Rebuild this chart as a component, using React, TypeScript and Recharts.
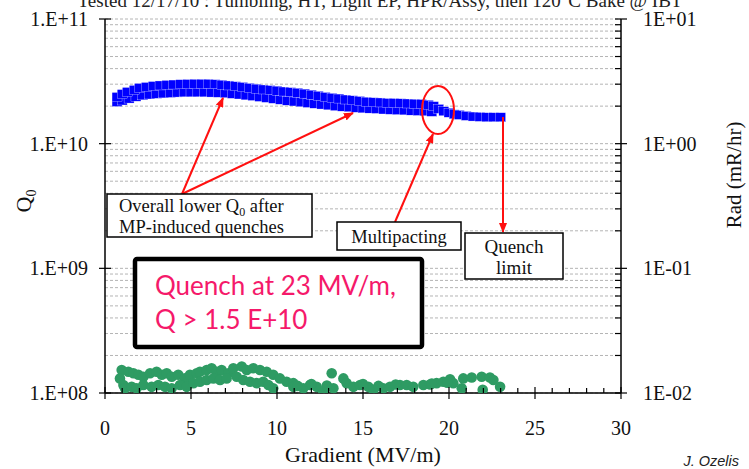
import React from "react";
import {
  ScatterChart,
  Scatter,
  XAxis,
  YAxis,
  CartesianGrid,
} from "recharts";

// Q0 vs gradient, upper row of squares
const gradUpper = [
  0.7, 1.0, 1.3, 1.7, 2.0, 2.4, 2.8, 3.2, 3.6, 4.0, 4.4, 4.8, 5.2, 5.6, 6.0, 6.4, 6.8, 7.2, 7.6,
  8.0, 8.4, 8.8, 9.2, 9.6, 10.0, 10.4, 10.8, 11.2, 11.6, 12.0, 12.4, 12.8, 13.2, 13.6, 14.0,
  14.4, 14.8, 15.2, 15.6, 16.0, 16.4, 16.8, 17.2, 17.6, 18.0, 18.4, 18.8, 19.1, 19.4, 19.7,
  20.0, 20.3, 20.6, 21.0, 21.4, 21.8, 22.2, 22.6, 23.0,
];
const q0Upper = [
  2.37e10, 2.5e10, 2.6e10, 2.7e10, 2.8e10, 2.85e10, 2.9e10, 2.93e10, 2.96e10, 2.98e10, 3.0e10,
  3.01e10, 3.02e10, 3.02e10, 3.02e10, 3.0e10, 2.97e10, 2.93e10, 2.89e10, 2.85e10, 2.8e10,
  2.76e10, 2.72e10, 2.69e10, 2.66e10, 2.62e10, 2.59e10, 2.56e10, 2.52e10, 2.47e10, 2.42e10,
  2.37e10, 2.33e10, 2.3e10, 2.26e10, 2.23e10, 2.2e10, 2.17e10, 2.15e10, 2.14e10, 2.12e10,
  2.12e10, 2.11e10, 2.1e10, 2.09e10, 2.08e10, 2.05e10, 2.0e10, 1.9e10, 1.82e10, 1.77e10,
  1.72e10, 1.7e10, 1.67e10, 1.65e10, 1.64e10, 1.63e10, 1.63e10, 1.63e10,
];

// Q0 after MP-induced quenches (lower row)
const gradLower = [
  0.7, 1.0, 1.4, 1.8, 2.2, 2.6, 3.0, 3.4, 3.8, 4.2, 4.6, 5.0, 5.4, 5.8, 6.2, 6.6, 7.0, 7.4, 7.8,
  8.2, 8.6, 9.0, 9.4, 9.8, 10.2, 10.6, 11.0, 11.4, 11.8, 12.2, 12.6, 13.0, 13.4, 13.8, 14.2,
  14.6, 15.0, 15.4, 15.8, 16.2, 16.6, 17.0, 17.4, 17.8, 18.2, 18.6, 19.0,
];
const q0Lower = [
  2.16e10, 2.22e10, 2.3e10, 2.38e10, 2.44e10, 2.48e10, 2.51e10, 2.53e10, 2.55e10, 2.57e10,
  2.58e10, 2.58e10, 2.58e10, 2.58e10, 2.57e10, 2.56e10, 2.54e10, 2.51e10, 2.48e10, 2.44e10,
  2.41e10, 2.37e10, 2.33e10, 2.29e10, 2.25e10, 2.21e10, 2.18e10, 2.15e10, 2.12e10, 2.09e10,
  2.06e10, 2.03e10, 2.0e10, 1.98e10, 1.96e10, 1.94e10, 1.92e10, 1.91e10, 1.9e10, 1.88e10,
  1.87e10, 1.86e10, 1.85e10, 1.84e10, 1.83e10, 1.82e10, 1.8e10,
];

// radiation (mR/hr), right axis
const gradRad = [
  0.97, 0.87, 1.07, 1.36, 1.65, 1.94, 2.23, 2.62, 3.0, 3.3, 3.59, 3.88, 4.26, 4.65, 4.94, 5.33,
  5.52, 5.91, 6.2, 6.49, 6.78, 7.17, 7.46, 7.95, 8.24, 8.62, 9.01, 9.4, 9.78, 10.17, 10.56,
  10.95, 1.16, 1.55, 1.84, 2.23, 2.71, 3.1, 3.49, 3.88, 4.36, 4.75, 5.14, 5.52, 5.91, 6.3,
  6.69, 7.07, 7.66, 8.04, 8.43, 8.82, 9.2, 9.5, 9.78, 10.95, 11.53, 11.92, 12.31, 12.69,
  13.18, 13.28, 13.86, 14.05, 14.44, 14.83, 15.31, 15.6, 16.18, 16.57, 17.15, 17.54, 17.92,
  18.51, 18.9, 19.28, 19.67, 20.06, 20.25, 20.74, 20.83, 21.32, 21.9, 21.96, 22.38, 22.58,
  22.97, 11.2, 12.0, 12.9, 15.0, 15.9, 16.9, 19.0, 19.9,
];
const radValues = [
  0.0153, 0.0131, 0.0116, 0.0148, 0.0144, 0.014, 0.0135, 0.0144, 0.0148, 0.014, 0.0144, 0.0135,
  0.014, 0.0131, 0.014, 0.0144, 0.0148, 0.0153, 0.0158, 0.0148, 0.0153, 0.0144, 0.0158, 0.0163,
  0.0153, 0.0158, 0.0153, 0.0148, 0.014, 0.0131, 0.0123, 0.012, 0.0109, 0.0112, 0.0109, 0.0116,
  0.0112, 0.0116, 0.0112, 0.0109, 0.0116, 0.0112, 0.012, 0.0123, 0.0127, 0.0131, 0.0127, 0.0131,
  0.0135, 0.0127, 0.0123, 0.012, 0.0123, 0.0116, 0.0109, 0.0112, 0.0109, 0.0116, 0.0112, 0.0102,
  0.0144, 0.0109, 0.0131, 0.012, 0.0112, 0.0116, 0.0112, 0.0106, 0.0109, 0.0112, 0.0116, 0.0116,
  0.0112, 0.0116, 0.0117, 0.012, 0.0123, 0.0129, 0.012, 0.0109, 0.0131, 0.0133, 0.0135, 0.0106,
  0.0133, 0.0127, 0.0112, 0.0114, 0.0118, 0.0115, 0.0118, 0.0114, 0.0117, 0.0119, 0.0121,
];

const xTicks = [
  0, 1, 2, 3, 4, 5, 6, 7, 8, 9, 10, 11, 12, 13, 14, 15, 16, 17, 18, 19, 20, 21, 22, 23, 24,
  25, 26, 27, 28, 29, 30,
];
const qTicks = [1e8, 1e9, 1e10, 1e11];
const radDecades = [0.01, 0.1, 1, 10];
const radTicks = [
  ...radDecades,
  ...radDecades.slice(0, -1).flatMap((d) => [2, 3, 4, 5, 6, 7, 8, 9].map((m) => m * d)),
].sort((a, b) => a - b);

const upperData = gradUpper.map((g, i) => ({ g, q: q0Upper[i] }));
const lowerData = gradLower.map((g, i) => ({ g, q: q0Lower[i] }));
const radData = gradRad.map((g, i) => ({ g, rad: radValues[i] }));

const SERIF = "'Liberation Serif', 'Times New Roman', serif";
const PINK_FONT = "Lato, 'Open Sans', sans-serif";

const isDecade = (v: number) => Math.abs(Math.log10(v) - Math.round(Math.log10(v))) < 1e-6;
const expStr = (v: number) => {
  const e = Math.round(Math.log10(v));
  return (e < 0 ? "-" : "+") + String(Math.abs(e)).padStart(2, "0");
};

const LeftTick = (props: any) => {
  const { x, y, payload } = props;
  return (
    <g>
      <line x1={x - 6} x2={x + 6} y1={y} y2={y} stroke="#000" strokeWidth={1.2} />
      <text x={x - 17} y={y} dy="0.35em" textAnchor="end" fontSize={20} fontFamily={SERIF} fill="#111">
        {"1.E" + expStr(payload.value)}
      </text>
    </g>
  );
};

const RightTick = (props: any) => {
  const { x, y, payload } = props;
  const major = isDecade(payload.value);
  return (
    <g>
      <line x1={x - 6} x2={major ? x + 6 : x} y1={y} y2={y} stroke="#000" strokeWidth={1.2} />
      {major && (
        <text x={x + 22} y={y} dy="0.35em" textAnchor="start" fontSize={20} fontFamily={SERIF} fill="#111">
          {"1E" + expStr(payload.value)}
        </text>
      )}
    </g>
  );
};

const BottomTick = (props: any) => {
  const { x, y, payload } = props;
  const major = payload.value % 5 === 0;
  return (
    <g>
      <line x1={x} x2={x} y1={major ? y - 6 : y - 5} y2={major ? y + 6 : y} stroke="#000" strokeWidth={1.2} />
      {major && (
        <text x={x} y={y + 35} dy="0.35em" textAnchor="middle" fontSize={20} fontFamily={SERIF} fill="#111">
          {payload.value}
        </text>
      )}
    </g>
  );
};

const Square = (p: any) => (
  <rect x={p.cx - 5} y={p.cy - 4.5} width={10} height={9} fill="#0000FF" stroke="#fff" strokeWidth={0.3} />
);
const Dot = (p: any) => <circle cx={p.cx} cy={p.cy} r={5.3} fill="#2E9B63" />;

const Arrow = ({ x1, y1, x2, y2 }: { x1: number; y1: number; y2: number; x2: number }) => (
  <line x1={x1} y1={y1} x2={x2} y2={y2} stroke="#FF1010" strokeWidth={2} markerEnd="url(#arrowhead)" />
);

export default function App() {
  return (
    <div style={{ position: "absolute", left: 0, top: 0, width: 749, height: 469, background: "#fff" }}>
      <ScatterChart width={749} height={469} margin={{ top: 19, right: 0, bottom: 0, left: 0 }}>
        <CartesianGrid yAxisId="rad" vertical={false} stroke="#b4b4b4" strokeDasharray="3 2" />
        <XAxis
          type="number"
          dataKey="g"
          domain={[0, 30]}
          ticks={xTicks}
          interval={0}
          height={76}
          tickSize={0}
          tickMargin={0}
          tick={<BottomTick />}
          axisLine={{ stroke: "#000", strokeWidth: 1.5 }}
        />
        <YAxis
          yAxisId="q"
          type="number"
          dataKey="q"
          scale="log"
          domain={[1e8, 1e11]}
          allowDataOverflow
          ticks={qTicks}
          interval={0}
          width={105}
          tickSize={0}
          tickMargin={0}
          tick={<LeftTick />}
          axisLine={{ stroke: "#000", strokeWidth: 1.5 }}
        />
        <YAxis
          yAxisId="rad"
          orientation="right"
          type="number"
          dataKey="rad"
          scale="log"
          domain={[0.01, 10]}
          allowDataOverflow
          ticks={radTicks}
          interval={0}
          width={128}
          tickSize={0}
          tickMargin={0}
          tick={<RightTick />}
          axisLine={{ stroke: "#000", strokeWidth: 1.5 }}
        />
        <Scatter yAxisId="rad" data={radData} shape={Dot} isAnimationActive={false} />
        <Scatter yAxisId="q" data={lowerData} shape={Square} isAnimationActive={false} />
        <Scatter yAxisId="q" data={upperData} shape={Square} isAnimationActive={false} />
      </ScatterChart>

      <svg
        width={749}
        height={469}
        style={{ position: "absolute", left: 0, top: 0, pointerEvents: "none" }}
        fontFamily={SERIF}
      >
        <defs>
          <marker id="arrowhead" markerWidth="10" markerHeight="8" refX="9" refY="4" orient="auto" markerUnits="userSpaceOnUse">
            <path d="M0,0 L10,4 L0,8 Z" fill="#FF1010" />
          </marker>
        </defs>

        <text x={380} y={7} textAnchor="middle" fontSize={19} fill="#222">
          Tested 12/17/10 : Tumbling, HT, Light EP, HPR/Assy, then 120°C Bake @ IBT
        </text>

        <text transform="translate(31,201) rotate(-90)" textAnchor="middle" fontSize={22} fill="#111">
          Q<tspan fontSize={14} dy={5}>0</tspan>
        </text>
        <text transform="translate(741,175) rotate(-90)" textAnchor="middle" fontSize={21} fill="#111">
          Rad (mR/hr)
        </text>
        <text x={363} y={462} textAnchor="middle" fontSize={22} fill="#111">
          Gradient (MV/m)
        </text>
        <text x={739} y={466} textAnchor="end" fontSize={14.5} fontStyle="italic" fontFamily="'Liberation Sans', Arial, sans-serif" fill="#222">
          J. Ozelis
        </text>

        {/* annotations */}
        <Arrow x1={182} y1={194} x2={223} y2={98} />
        <Arrow x1={182} y1={194} x2={353} y2={113} />
        <Arrow x1={395} y1={222} x2={433} y2={134} />
        <Arrow x1={503} y1={117} x2={503} y2={232} />
        <ellipse cx={438} cy={110} rx={16} ry={24} fill="none" stroke="#FF1010" strokeWidth={2} />

        <rect x={107} y={194} width={205} height={43} fill="#fff" stroke="#000" strokeWidth={1.5} />
        <text x={119} y={212} fontSize={18.5} fill="#111">
          Overall lower Q<tspan fontSize={12} dy={4}>0</tspan>
          <tspan dy={-4}> after</tspan>
        </text>
        <text x={119} y={233} fontSize={18.5} fill="#111">
          MP-induced quenches
        </text>

        <rect x={337} y={222} width={124} height={28} fill="#fff" stroke="#000" strokeWidth={1.5} />
        <text x={399} y={243} textAnchor="middle" fontSize={18.5} fill="#111">
          Multipacting
        </text>

        <rect x={465} y={233} width={98} height={46} fill="#fff" stroke="#000" strokeWidth={1.5} />
        <text x={514} y={253} textAnchor="middle" fontSize={19} fill="#111">
          Quench
        </text>
        <text x={514} y={274} textAnchor="middle" fontSize={19} fill="#111">
          limit
        </text>

        <rect x={135} y={259} width={287} height={88} rx={2} fill="#fff" stroke="#000" strokeWidth={4.5} />
        <text x={155} y={295} fontSize={26} fontFamily={PINK_FONT} fill="#F5196A">
          Quench at 23 MV/m,
        </text>
        <text x={155} y={329} fontSize={26} fontFamily={PINK_FONT} fill="#F5196A">
          Q &gt; 1.5 E+10
        </text>
      </svg>
    </div>
  );
}
